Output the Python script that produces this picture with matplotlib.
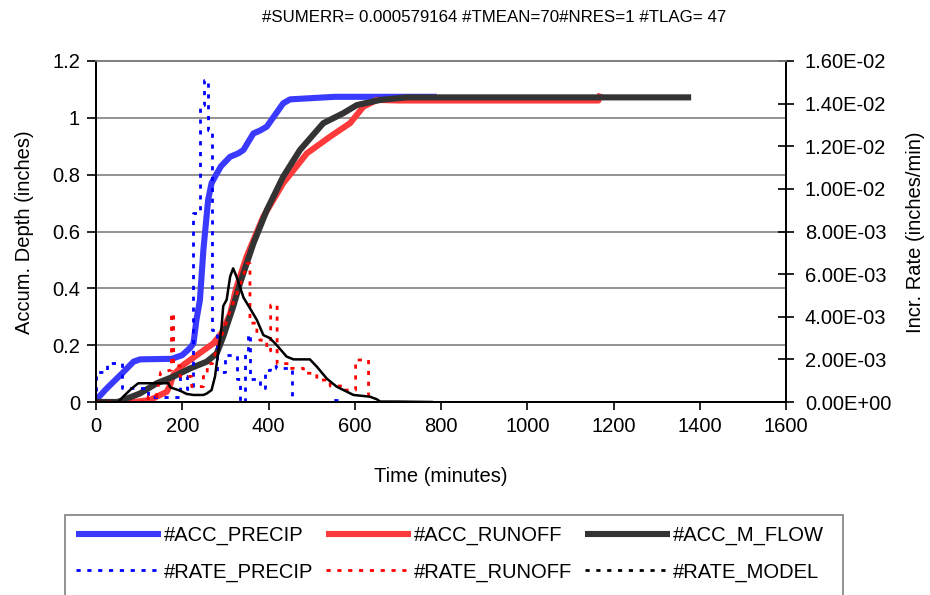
import matplotlib
matplotlib.use("Agg")
import matplotlib.pyplot as plt
from matplotlib.lines import Line2D
from matplotlib.patches import Rectangle
from matplotlib.ticker import FuncFormatter

plt.rcParams['font.family'] = ['Liberation Sans', 'DejaVu Sans']

# ---------------- data ----------------
title = "#SUMERR= 0.000579164 #TMEAN=70#NRES=1 #TLAG= 47"
x_label = "Time (minutes)"
y_label_left = "Accum. Depth (inches)"
y_label_right = "Incr. Rate (inches/min)"
series_names = ["#ACC_PRECIP", "#ACC_RUNOFF", "#ACC_M_FLOW",
                "#RATE_PRECIP", "#RATE_RUNOFF", "#RATE_MODEL"]

acc_precip_t = [0, 25, 60, 87, 102, 176, 200, 218, 226, 233, 241, 249, 260, 268, 276, 290,
                311, 330, 342, 355, 365, 380, 396, 415, 434, 450, 554, 790]
acc_precip_v = [0.007, 0.048, 0.100, 0.142, 0.150, 0.152, 0.165, 0.190, 0.206, 0.290, 0.359,
                0.535, 0.711, 0.770, 0.793, 0.830, 0.863, 0.875, 0.887, 0.920, 0.945, 0.955,
                0.969, 1.010, 1.051, 1.065, 1.074, 1.074]

acc_runoff_t = [0, 87, 125, 164, 172, 179, 202, 234, 272, 291, 311, 325, 349, 388, 434, 489,
                543, 589, 620, 651, 700, 1165, 1170]
acc_runoff_v = [0, 0, 0.007, 0.036, 0.060, 0.095, 0.130, 0.165, 0.206, 0.242, 0.310, 0.400,
                0.511, 0.652, 0.770, 0.875, 0.934, 0.981, 1.039, 1.063, 1.061, 1.061, 1.085]

acc_mflow_t = [0, 50, 63, 102, 141, 179, 218, 257, 280, 295, 318, 334, 365, 396, 434, 473,
               527, 573, 605, 659, 720, 1380]
acc_mflow_v = [0, 0, 0.007, 0.030, 0.066, 0.089, 0.118, 0.142, 0.171, 0.230, 0.335, 0.418,
               0.558, 0.675, 0.793, 0.887, 0.981, 1.016, 1.045, 1.063, 1.072, 1.072]

rate_precip_t = [0, 0, 25, 25, 60, 60, 120, 120, 195, 195, 210, 210, 226, 226, 240, 240,
                 250, 250, 260, 260, 270, 270, 280, 280, 298, 298, 326, 326, 334, 334,
                 345, 345, 352, 352, 357, 357, 380, 380, 392, 392, 403, 403, 418, 418,
                 454, 454, 538, 538, 570, 570]
rate_precip_v = [0.0005, 0.00142, 0.00142, 0.00182, 0.00182, 0.00064, 0.00064, 0.00025,
                 0.00025, 0.0012, 0.0012, 0.0006, 0.0006, 0.00885, 0.00885, 0.01394,
                 0.01394, 0.01511, 0.01511, 0.01276, 0.01276, 0.0034, 0.0034, 0.0014,
                 0.0014, 0.0022, 0.0022, 0.0011, 0.0011, 0.0, 0.0, 0.0023, 0.0023, 0.0032,
                 0.0032, 0.0011, 0.0011, 0.00066, 0.00066, 0.0015, 0.0015, 0.0017, 0.0017,
                 0.0016, 0.0016, 0.0, 0.0, 0.0001, 0.0001, 0.0]

rate_runoff_t = [0, 121, 121, 140, 150, 175, 175, 180, 180, 195, 195, 222, 222, 249, 249,
                 258, 258, 270, 280, 295, 310, 325, 340, 350, 357, 357, 373, 373, 380, 396,
                 396, 405, 405, 420, 420, 450, 450, 481, 481, 512, 512, 543, 543, 574, 574,
                 602, 602, 632, 632]
rate_runoff_v = [0, 0, 0.00025, 0.00025, 0.0014, 0.0015, 0.00416, 0.00416, 0.0017, 0.0017,
                 0.0012, 0.0012, 0.00072, 0.00072, 0.0012, 0.0012, 0.0018, 0.0018, 0.0025,
                 0.0033, 0.0042, 0.0050, 0.0058, 0.0065, 0.0065, 0.0037, 0.0037, 0.0032,
                 0.0029, 0.0029, 0.0024, 0.0024, 0.00455, 0.00455, 0.0018, 0.0018, 0.00158,
                 0.00158, 0.00135, 0.00135, 0.00103, 0.00103, 0.00075, 0.00075, 0.00056,
                 0.00056, 0.00197, 0.00197, 0.0]

rate_model_t = [0, 52, 63, 83, 98, 168, 172, 195, 210, 226, 249, 257, 268, 276, 284, 291,
                295, 303, 311, 318, 326, 342, 357, 373, 388, 403, 419, 442, 458, 496, 512,
                535, 558, 597, 635, 651, 659, 697, 779]
rate_model_v = [0, 0, 0.00025, 0.00064, 0.00088, 0.00088, 0.00069, 0.00053, 0.00038,
                0.00033, 0.00033, 0.0004, 0.00056, 0.0012, 0.00244, 0.0035, 0.0045, 0.0048,
                0.00588, 0.00627, 0.00588, 0.0049, 0.0044, 0.00385, 0.00314, 0.0030,
                0.00267, 0.00213, 0.0020, 0.0020, 0.00166, 0.0011, 0.00072, 0.00033,
                0.00025, 0.00013, 0.00002, 0.00002, 0.0]

x_ticks = [0, 200, 400, 600, 800, 1000, 1200, 1400, 1600]
y_ticks_left = [0, 0.2, 0.4, 0.6, 0.8, 1.0, 1.2]
y_ticks_right = [0, 0.002, 0.004, 0.006, 0.008, 0.010, 0.012, 0.014, 0.016]

# ---------------- styles ----------------
FS = 14.5
W, H = 930, 595
c_acc = ["#3a3aff", "#ff3a3a", "#333333"]
c_rate = ["#0000ff", "#ff0000", "#000000"]
dots = (0, (1.5, 2.4))

fig = plt.figure(figsize=(W / 100, H / 100), dpi=100)
ax = fig.add_axes([96 / W, 1 - 402 / H, 690 / W, 341 / H])
ax2 = ax.twinx()

ax.plot(acc_precip_t, acc_precip_v, color=c_acc[0], lw=4.4, solid_capstyle='butt')
ax.plot(acc_runoff_t, acc_runoff_v, color=c_acc[1], lw=4.4, solid_capstyle='butt')
ax.plot(acc_mflow_t, acc_mflow_v, color=c_acc[2], lw=4.4, solid_capstyle='butt')

ax2.plot(rate_precip_t, rate_precip_v, color=c_rate[0], lw=2.0, linestyle=dots)
ax2.plot(rate_runoff_t, rate_runoff_v, color=c_rate[1], lw=2.0, linestyle=dots)
ax2.plot(rate_model_t, rate_model_v, color=c_rate[2], lw=1.8)

ax.set_xlim(0, 1600)
ax.set_ylim(0, 1.2)
ax2.set_ylim(0, 0.016)
ax.set_xticks(x_ticks)
ax.set_yticks(y_ticks_left)
ax2.set_yticks(y_ticks_right)
ax.yaxis.set_major_formatter(FuncFormatter(lambda v, p: f"{v:g}"))
ax2.yaxis.set_major_formatter(FuncFormatter(lambda v, p: f"{v:.2E}"))

ax.grid(axis='y', color='#808080', lw=1.2)
ax.set_axisbelow(True)
for a in (ax, ax2):
    a.spines['top'].set_color('#808080')
    a.spines['top'].set_linewidth(1.2)
    for s in ('left', 'bottom', 'right'):
        a.spines[s].set_color('black')
        a.spines[s].set_linewidth(1.3)
ax.tick_params(axis='x', direction='out', length=6, width=1.2, pad=5, labelsize=FS)
ax.tick_params(axis='y', direction='out', length=6.5, width=1.2, pad=5, labelsize=FS)
ax2.tick_params(axis='y', direction='inout', length=11, width=1.2, pad=8, labelsize=FS)

fig.text(494.5 / W, 1 - 18 / H, title, ha='center', va='center', fontsize=12.2)
fig.text(441 / W, 1 - 477 / H, x_label, ha='center', va='center', fontsize=FS)
fig.text(25 / W, 1 - 232 / H, y_label_left, ha='center', va='center', rotation=90, fontsize=FS)
fig.text(915 / W, 1 - 232 / H, y_label_right, ha='center', va='center', rotation=90, fontsize=FS)

handles = [
    Line2D([], [], color=c_acc[0], lw=4.4, solid_capstyle='butt'),
    Line2D([], [], color=c_rate[0], lw=2.0, linestyle=dots),
    Line2D([], [], color=c_acc[1], lw=4.4, solid_capstyle='butt'),
    Line2D([], [], color=c_rate[1], lw=2.0, linestyle=dots),
    Line2D([], [], color=c_acc[2], lw=4.4, solid_capstyle='butt'),
    Line2D([], [], color=c_rate[2], lw=2.0, linestyle=dots),
]
labels = [series_names[0], series_names[3], series_names[1],
          series_names[4], series_names[2], series_names[5]]
leg = fig.legend(handles, labels, ncol=3, mode='expand', loc='upper left',
                 bbox_to_anchor=(65 / W, 1 - 515 / H, 770 / W, 0),
                 bbox_transform=fig.transFigure, fontsize=FS, handlelength=4.2,
                 handletextpad=0.15, borderpad=0.55, labelspacing=0.85,
                 borderaxespad=0, frameon=False, columnspacing=0.5)
# legend frame runs past the bottom edge of the picture, as in the reference
fig.add_artist(Rectangle((65 / W, -0.05), 778 / W, (1 - 515 / H) + 0.05,
                         transform=fig.transFigure, fill=False,
                         edgecolor='#808080', lw=1.2))

fig.savefig("out.png", dpi=100)
